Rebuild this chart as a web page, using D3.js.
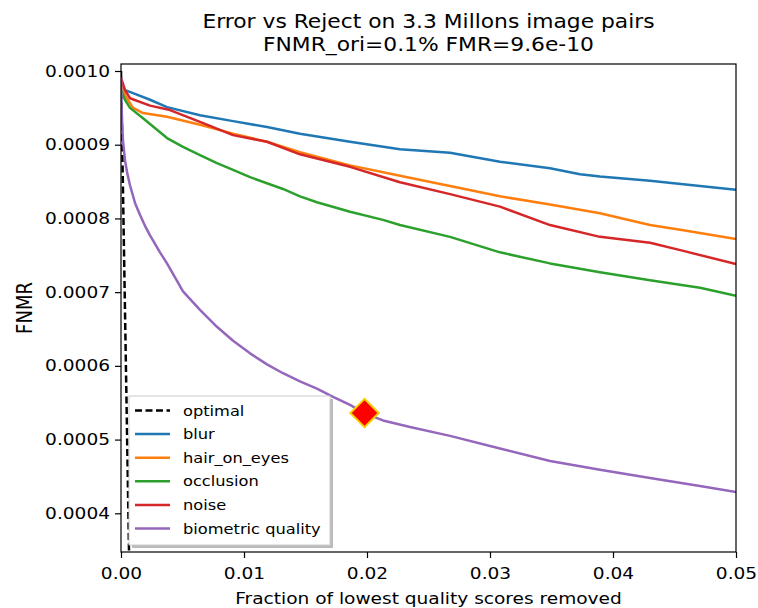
<!DOCTYPE html>
<html lang="en">
<head>
    <meta charset="UTF-8">
    <title>Error vs Reject</title>
    <script src="https://d3js.org/d3.v7.min.js"></script>
    <style>
        body { margin: 0; background: #fff; }
        text { font-family: "DejaVu Sans", sans-serif; fill: #000; }
    </style>
</head>
<body>

<svg></svg>

<script>

    // fraction of lowest quality scores removed / FNMR
    const blurX = [0, 0.000325, 0.00098, 0.00236, 0.00374, 0.00642, 0.00911, 0.01187, 0.01455, 0.01862, 0.02268, 0.02675, 0.03081, 0.03488, 0.03732, 0.03894, 0.04301, 0.04707, 0.05];
    const blurY = [0.000985, 0.000974, 0.000970, 0.000961, 0.000951, 0.000940, 0.000932, 0.000924, 0.000915, 0.000904, 0.000894, 0.000889, 0.000877, 0.000868, 0.000860, 0.000857, 0.000851, 0.000844, 0.000839];

    const hairX = [0, 0.000325, 0.00098, 0.00179, 0.00374, 0.00642, 0.00911, 0.01187, 0.01455, 0.01862, 0.02268, 0.02675, 0.03081, 0.03488, 0.03894, 0.04301, 0.04572, 0.05];
    const hairY = [0.000985, 0.000967, 0.000950, 0.000943, 0.000938, 0.000927, 0.000915, 0.000904, 0.000890, 0.000872, 0.000858, 0.000844, 0.000830, 0.000819, 0.000807, 0.000791, 0.000784, 0.000772];

    const occlusionX = [0, 0.000325, 0.00073, 0.00179, 0.00374, 0.00504, 0.00642, 0.00780, 0.00911, 0.01049, 0.01317, 0.01455, 0.01593, 0.01862, 0.02130, 0.02268, 0.02675, 0.03081, 0.03488, 0.03894, 0.04301, 0.04707, 0.05];
    const occlusionY = [0.000974, 0.000961, 0.000950, 0.000936, 0.000909, 0.000897, 0.000886, 0.000875, 0.000866, 0.000856, 0.000840, 0.000830, 0.000822, 0.000809, 0.000798, 0.000791, 0.000775, 0.000754, 0.000739, 0.000727, 0.000716, 0.000706, 0.000695];

    const noiseX = [0, 0.000325, 0.00073, 0.00236, 0.00398, 0.00642, 0.00911, 0.01187, 0.01455, 0.01862, 0.02268, 0.02675, 0.03081, 0.03488, 0.03894, 0.04301, 0.04572, 0.05];
    const noiseY = [0.000991, 0.000974, 0.000963, 0.000953, 0.000947, 0.000931, 0.000913, 0.000904, 0.000887, 0.000870, 0.000849, 0.000833, 0.000816, 0.000791, 0.000775, 0.000767, 0.000756, 0.000738];

    const bioX = [0, 0.00004, 0.00008, 0.00016, 0.000325, 0.00049, 0.00073, 0.00114, 0.00154, 0.00195, 0.00236, 0.00317, 0.00374, 0.00439, 0.00504, 0.00642, 0.00780, 0.00911, 0.01049, 0.01187, 0.01317, 0.01455, 0.01593, 0.01724, 0.01862, 0.01976, 0.02130, 0.02350, 0.02675, 0.03081, 0.03488, 0.03894, 0.04301, 0.04707, 0.05];
    const bioY = [0.000991, 0.000961, 0.000934, 0.000906, 0.000879, 0.000863, 0.000845, 0.000821, 0.000805, 0.000790, 0.000777, 0.000754, 0.000739, 0.000720, 0.000701, 0.000676, 0.000653, 0.000634, 0.000617, 0.000602, 0.000590, 0.000579, 0.000569, 0.000558, 0.000547, 0.000536, 0.000526, 0.000517, 0.000505, 0.000488, 0.000471, 0.000459, 0.000448, 0.000437, 0.000429];

    const optimalX = [0, 0.001];
    const optimalY = [0.001, 0];

    const markerX = [0.0198];
    const markerY = [0.000536];

    const xTicks = [0, 0.01, 0.02, 0.03, 0.04, 0.05];
    const yTicks = [0.0004, 0.0005, 0.0006, 0.0007, 0.0008, 0.0009, 0.0010];

    const seriesNames = ['optimal', 'blur', 'hair_on_eyes', 'occlusion', 'noise', 'biometric quality'];
    const seriesColors = ['black', '#1f77b4', '#ff7f0e', '#2ca02c', '#d62728', '#9467bd'];

    const titleLines = ['Error vs Reject on 3.3 Millons image pairs', 'FNMR_ori=0.1% FMR=9.6e-10'];


    const width = 758;
    const height = 608;
    const margin = {top: 64, right: 22, bottom: 56, left: 121};
    const innerW = width - margin.left - margin.right;
    const innerH = height - margin.top - margin.bottom;

    // the picture is a bit wider than tall, text looks stretched sideways
    const SX = 1.16;
    const stretch = function (sel) {
        sel.attr('transform', function () {
            const x = +d3.select(this).attr('x') || 0;
            return `translate(${x},0) scale(${SX},1) translate(${-x},0)`;
        });
    };

    const xScale = d3.scaleLinear().domain([0, 0.05]).range([0, innerW]);
    const yScale = d3.scaleLinear().domain([0.0003475, 0.0010095]).range([innerH, 0]);

    let svg = d3.select('svg')
        .attr('width', width)
        .attr('height', height);

    svg.append('rect').attr('width', width).attr('height', height).attr('fill', 'white');

    // title
    svg.selectAll('.title')
        .data(titleLines)
        .enter()
        .append('text')
        .attr('class', 'title')
        .attr('x', margin.left + innerW / 2)
        .attr('y', (d, i) => 28 + i * 23)
        .attr('text-anchor', 'middle')
        .style('font-size', '18.8px')
        .text(d => d)
        .call(stretch);

    const g = svg.append('g')
        .attr('transform', `translate(${margin.left},${margin.top})`);

    g.append('clipPath').attr('id', 'clip')
        .append('rect').attr('width', innerW).attr('height', innerH);

    const line = d3.line()
        .x(d => xScale(d[0]))
        .y(d => yScale(d[1]));

    const zip = (xs, ys) => xs.map((x, i) => [x, ys[i]]);

    const series = [
        zip(optimalX, optimalY),
        zip(blurX, blurY),
        zip(hairX, hairY),
        zip(occlusionX, occlusionY),
        zip(noiseX, noiseY),
        zip(bioX, bioY)
    ];

    const plot = g.append('g').attr('clip-path', 'url(#clip)');

    plot.selectAll('path')
        .data(series)
        .enter()
        .append('path')
        .attr('d', line)
        .attr('fill', 'none')
        .attr('stroke', (d, i) => seriesColors[i])
        .attr('stroke-width', 2.5)
        .attr('stroke-linejoin', 'round')
        .attr('stroke-dasharray', (d, i) => i === 0 ? '7,3.5' : null);

    // red diamond on the biometric quality curve
    plot.selectAll('.marker')
        .data(zip(markerX, markerY))
        .enter()
        .append('path')
        .attr('class', 'marker')
        .attr('d', d3.symbol().type(d3.symbolSquare).size(400))
        .attr('transform', d => `translate(${xScale(d[0])},${yScale(d[1])}) rotate(45)`)
        .attr('fill', 'red')
        .attr('stroke', '#f5d000')
        .attr('stroke-width', 2);

    // axes
    const xAxis = d3.axisBottom(xScale).tickValues(xTicks).tickFormat(d3.format('.2f')).tickSizeOuter(0).tickSize(6).tickPadding(10);
    const yAxis = d3.axisLeft(yScale).tickValues(yTicks).tickFormat(d3.format('.4f')).tickSizeOuter(0).tickSize(6).tickPadding(5);

    const gx = g.append('g')
        .attr('transform', `translate(0,${innerH})`)
        .call(xAxis);
    const gy = g.append('g').call(yAxis);

    [gx, gy].forEach(a => {
        a.select('.domain').remove();
        a.selectAll('line').attr('stroke', 'black').attr('stroke-width', 1.2);
        a.selectAll('text')
            .style('font-size', '16px')
            .attr('font-family', null)
            .call(stretch);
    });

    // frame
    g.append('rect')
        .attr('width', innerW)
        .attr('height', innerH)
        .attr('fill', 'none')
        .attr('stroke', 'black')
        .attr('stroke-width', 1.2);

    // axis labels
    svg.append('text')
        .attr('x', margin.left + innerW / 2)
        .attr('y', 604)
        .attr('text-anchor', 'middle')
        .style('font-size', '16px')
        .text('Fraction of lowest quality scores removed')
        .call(stretch);

    svg.append('text')
        .attr('transform', `translate(32,${margin.top + innerH / 2}) rotate(-90) scale(1,${SX})`)
        .attr('text-anchor', 'middle')
        .style('font-size', '18px')
        .text('FNMR');

    // legend with a shadow, as matplotlib draws it
    const legend = g.append('g').attr('transform', 'translate(8,332)');
    const legW = 201, legH = 149;
    const rowH = 23.6;

    legend.append('rect')
        .attr('x', 3).attr('y', 3)
        .attr('width', legW).attr('height', legH)
        .attr('fill', '#777').attr('opacity', 0.5);

    legend.append('rect')
        .attr('width', legW).attr('height', legH)
        .attr('fill', 'white')
        .attr('stroke', '#ccc').attr('stroke-width', 1);

    const rows = legend.selectAll('.row')
        .data(seriesNames)
        .enter()
        .append('g')
        .attr('class', 'row')
        .attr('transform', (d, i) => `translate(0,${14.5 + i * rowH})`);

    rows.append('line')
        .attr('x1', 6).attr('x2', 41)
        .attr('y1', 0).attr('y2', 0)
        .attr('stroke', (d, i) => seriesColors[i])
        .attr('stroke-width', 2.5)
        .attr('stroke-dasharray', (d, i) => i === 0 ? '7,3.5' : null);

    rows.append('text')
        .attr('x', 54)
        .attr('y', 5)
        .style('font-size', '14px')
        .text(d => d)
        .call(stretch);

</script>

</body>
</html>
